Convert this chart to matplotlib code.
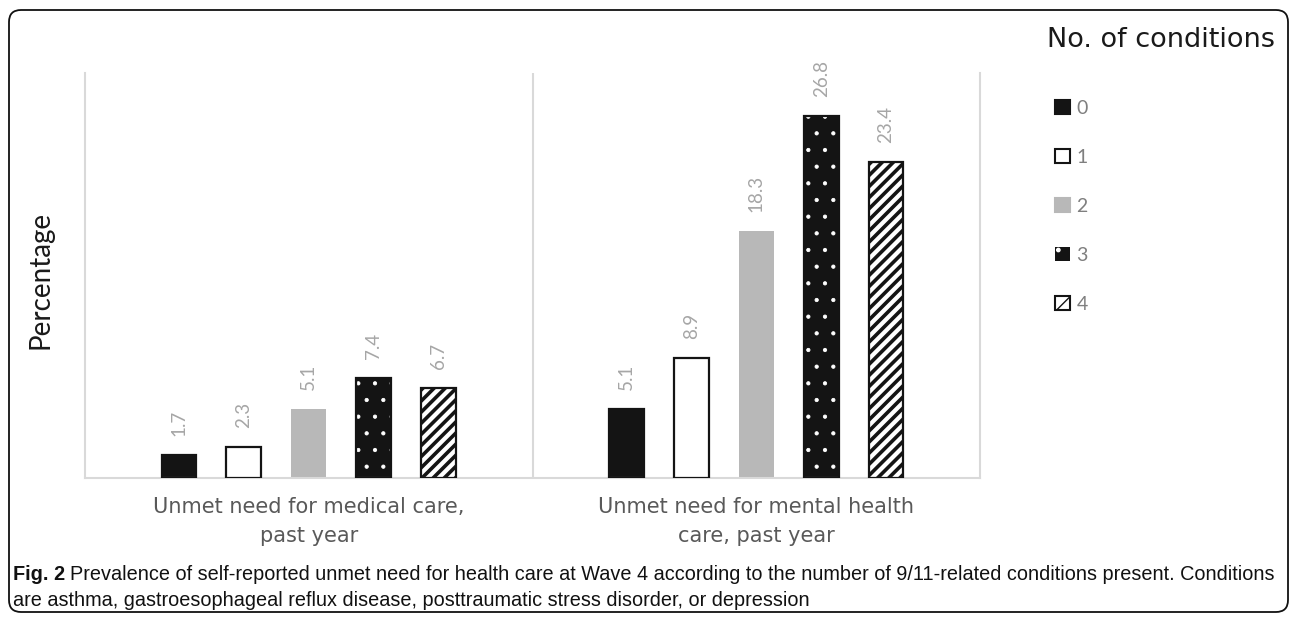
import matplotlib
matplotlib.use("Agg")
import matplotlib.pyplot as plt
from matplotlib.patches import FancyBboxPatch, Patch
from matplotlib import font_manager

# ---- data -------------------------------------------------------------
categories = ["Unmet need for medical care,\npast year",
              "Unmet need for mental health\ncare, past year"]
series_names = ["0", "1", "2", "3", "4"]
cond0 = [1.7, 5.1]
cond1 = [2.3, 8.9]
cond2 = [5.1, 18.3]
cond3 = [7.4, 26.8]
cond4 = [6.7, 23.4]
series_values = [cond0, cond1, cond2, cond3, cond4]

caption_bold = "Fig. 2"
caption_line1 = ("Prevalence of self-reported unmet need for health care at Wave 4 "
                 "according to the number of 9/11-related conditions present. Conditions")
caption_line2 = ("are asthma, gastroesophageal reflux disease, posttraumatic stress "
                 "disorder, or depression")

# ---- styles -----------------------------------------------------------
INK = "#141414"
styles = [
    dict(face=INK, hatch=None, hcolor=None, outline=INK, hlw=1.0),
    dict(face="white", hatch=None, hcolor=None, outline=INK, hlw=1.0),
    dict(face="#b8b8b8", hatch=None, hcolor=None, outline=None, hlw=1.0),
    dict(face=INK, hatch=".", hcolor="white", outline=INK, hlw=0.6),
    dict(face="white", hatch="///", hcolor=INK, outline=INK, hlw=2.6),
]

available = {f.name for f in font_manager.fontManager.ttflist}
def pick(*names):
    for n in names:
        if n in available:
            return n
    return "DejaVu Sans"

SANS = pick("Lato", "Open Sans", "DejaVu Sans")
WIDE = "DejaVu Sans"
NARROW = pick("Liberation Sans Narrow", "DejaVu Sans Condensed", "Liberation Sans")

W, H = 1290, 618
fig = plt.figure(figsize=(W / 100, H / 100), dpi=100)
fig.patch.set_facecolor("white")

def fx(px):
    return px / W

def fy(py):
    return 1 - py / H

ax = fig.add_axes([fx(85), fy(478), fx(980) - fx(85), fy(73) - fy(478)])

width = 0.078
step = 0.145
xs = list(range(len(categories)))


def make_bar(ax_, x, h, st):
    kw = dict(width=width, linewidth=0, zorder=2)
    if st["hatch"]:
        with plt.rc_context({"hatch.linewidth": st["hlw"]}):
            b = ax_.bar(x, h, color=st["face"], edgecolor=st["hcolor"],
                        hatch=st["hatch"], **kw)
        for p in b:
            if hasattr(p, "set_hatch_linewidth"):
                p.set_hatch_linewidth(st["hlw"])
    else:
        b = ax_.bar(x, h, color=st["face"], **kw)
    if st["outline"]:
        ax_.bar(x, h, width=width, fill=False, edgecolor=st["outline"],
                linewidth=1.6, zorder=3)
    return b


for i, (name, vals, st) in enumerate(zip(series_names, series_values, styles)):
    pos = [x + (i - 2) * step for x in xs]
    make_bar(ax, pos, vals, st)
    for px_, v in zip(pos, vals):
        ax.annotate(f"{v}", xy=(px_, v), xytext=(0, 19),
                    textcoords="offset pixels", rotation=90,
                    ha="center", va="bottom", color="#a6a6a6",
                    fontsize=13.5, family=SANS)

ax.set_xlim(-0.5, len(categories) - 0.5)
ax.set_ylim(0, 30)
ax.set_yticks([])
ax.set_xticks(xs)
ax.set_xticklabels(categories, fontsize=15, family=WIDE, color="#595959",
                   linespacing=1.55, multialignment="center")
ax.tick_params(axis="x", length=0, pad=14)
for side in ("left", "right", "bottom"):
    ax.spines[side].set_color("#d9d9d9")
    ax.spines[side].set_linewidth(1.5)
ax.spines["top"].set_visible(False)
ax.axvline(0.5, color="#d9d9d9", linewidth=1.5, zorder=1)

ax.set_ylabel("Percentage", fontsize=20, family=SANS, color="#1a1a1a")
ax.yaxis.set_label_coords((53 - 85) / 895, (478 - 280) / 405)

# legend with matching swatches
handles = []
for st in styles:
    if st["hatch"] == "///":
        with plt.rc_context({"hatch.linewidth": 2.0}):
            p = Patch(facecolor="white", edgecolor=INK, hatch="//",
                      linewidth=1.5)
    elif st["hatch"]:
        with plt.rc_context({"hatch.linewidth": st["hlw"]}):
            p = Patch(facecolor=st["face"], edgecolor=st["hcolor"],
                      hatch=st["hatch"], linewidth=0)
    else:
        p = Patch(facecolor=st["face"], edgecolor=st["outline"] or st["face"],
                  linewidth=1.5)
    handles.append(p)
leg = fig.legend(handles, series_names, loc="upper left",
                 bbox_to_anchor=(fx(1055), fy(100)), frameon=False,
                 fontsize=14, handlelength=0.75, handleheight=0.75,
                 handletextpad=0.35, labelspacing=1.64, borderpad=0,
                 borderaxespad=0, labelcolor="#7f7f7f",
                 prop=dict(family=SANS, size=14))

fig.text(fx(1275), fy(40), "No. of conditions", ha="right", va="center",
         fontsize=19.5, family=WIDE, color="#1a1a1a")

# caption
fig.canvas.draw()
r = fig.canvas.get_renderer()
cap_size = 14
tb = fig.text(fx(13), fy(574), caption_bold, ha="left", va="center",
              fontsize=cap_size, family=NARROW, weight="bold", color="#111111")
fig.canvas.draw()
bb = tb.get_window_extent(r)
t1 = fig.text(fx(bb.x1 + 5), fy(574), caption_line1, ha="left", va="center",
              fontsize=cap_size, family=NARROW, color="#111111")
fig.canvas.draw()
e1 = t1.get_window_extent(r)
scale = (1275 - 13) / (e1.x1 - bb.x0)
cap_size *= scale
tb.set_fontsize(cap_size)
fig.canvas.draw()
bb = tb.get_window_extent(r)
t1.set_fontsize(cap_size)
t1.set_x(fx(bb.x1 + 5 * scale))
fig.text(fx(13), fy(600), caption_line2, ha="left", va="center",
         fontsize=cap_size, family=NARROW, color="#111111")

# rounded frame around the whole figure
frame = FancyBboxPatch((0.09, 0.06), 12.79, 6.02,
                       boxstyle="round,pad=0,rounding_size=0.12",
                       transform=fig.dpi_scale_trans, fill=False,
                       edgecolor="#111111", linewidth=1.3)
fig.patches.append(frame)

fig.savefig("out.png", dpi=100)
